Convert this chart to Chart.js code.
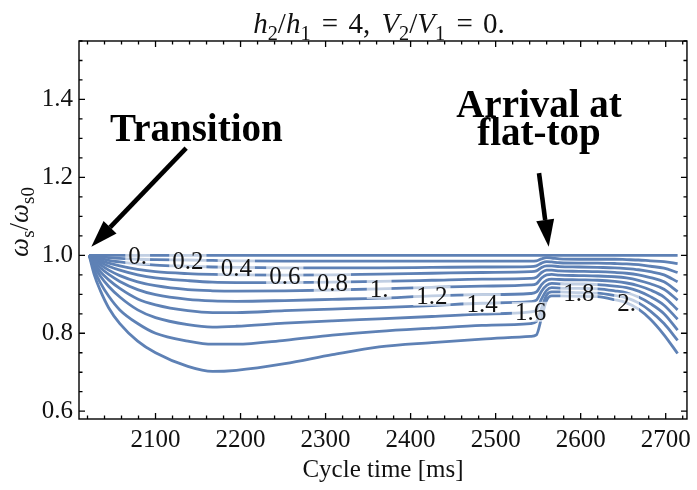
<!DOCTYPE html>
<html>
<head>
<meta charset="utf-8">
<script src="https://cdn.jsdelivr.net/npm/chart.js@4.4.1/dist/chart.umd.min.js"></script>
<style>
  html, body { margin: 0; padding: 0; background: #fff; }
  #wrap { position: relative; width: 697px; height: 490px; }
</style>
<title>Synchrotron frequency along the ramp</title>
</head>
<body>
<div id="wrap"><canvas id="chart" width="697" height="490"></canvas></div>
<script>
// cycle time samples [ms]
var times = [2022, 2028, 2035, 2045, 2058, 2079, 2100, 2138, 2167, 2195, 2252, 2308, 2363, 2425, 2484, 2541,
             2548, 2554, 2560, 2566, 2575, 2598, 2620, 2640, 2654, 2668, 2682, 2698, 2714];

// ws/ws0 for each curve, same sampling as times
var curve00 = [1.000, 1.000, 1.000, 1.000, 1.000, 1.000, 1.000, 1.000, 1.000, 1.000, 1.000, 1.000, 1.000, 1.000, 1.000, 1.000,
               1.000, 1.000, 1.000, 1.000, 1.000, 1.000, 1.000, 1.000, 1.000, 1.000, 1.000, 1.000, 1.000];
var curve02 = [1.000, 0.998, 0.996, 0.994, 0.992, 0.990, 0.989, 0.988, 0.987, 0.986, 0.985, 0.985, 0.985, 0.985, 0.985, 0.985,
               0.986, 0.991, 0.994, 0.993, 0.991, 0.990, 0.990, 0.990, 0.989, 0.988, 0.986, 0.984, 0.979];
var curve04 = [1.000, 0.996, 0.992, 0.987, 0.983, 0.978, 0.975, 0.972, 0.970, 0.969, 0.968, 0.968, 0.968, 0.969, 0.970, 0.971,
               0.973, 0.980, 0.984, 0.983, 0.981, 0.980, 0.980, 0.979, 0.978, 0.976, 0.972, 0.967, 0.956];
var curve06 = [1.000, 0.994, 0.987, 0.980, 0.973, 0.964, 0.958, 0.953, 0.951, 0.950, 0.949, 0.950, 0.952, 0.954, 0.956, 0.958,
               0.960, 0.969, 0.973, 0.973, 0.971, 0.970, 0.969, 0.968, 0.966, 0.963, 0.958, 0.950, 0.932];
var curve08 = [1.000, 0.991, 0.982, 0.972, 0.962, 0.950, 0.942, 0.935, 0.931, 0.930, 0.930, 0.931, 0.933, 0.936, 0.939, 0.941,
               0.944, 0.956, 0.962, 0.962, 0.960, 0.959, 0.958, 0.956, 0.954, 0.950, 0.943, 0.932, 0.907];
var curve10 = [1.000, 0.988, 0.976, 0.962, 0.948, 0.932, 0.922, 0.912, 0.909, 0.908, 0.909, 0.911, 0.914, 0.918, 0.921, 0.924,
               0.927, 0.942, 0.950, 0.951, 0.949, 0.948, 0.947, 0.945, 0.942, 0.936, 0.927, 0.913, 0.885];
var curve12 = [1.000, 0.984, 0.968, 0.951, 0.933, 0.912, 0.899, 0.887, 0.883, 0.882, 0.884, 0.887, 0.890, 0.896, 0.899, 0.902,
               0.906, 0.925, 0.936, 0.939, 0.938, 0.937, 0.936, 0.933, 0.929, 0.922, 0.911, 0.893, 0.860];
var curve14 = [1.000, 0.978, 0.958, 0.937, 0.915, 0.888, 0.873, 0.858, 0.853, 0.853, 0.858, 0.862, 0.866, 0.871, 0.877, 0.881,
               0.885, 0.908, 0.923, 0.928, 0.927, 0.926, 0.925, 0.921, 0.917, 0.908, 0.894, 0.872, 0.836];
var curve16 = [1.000, 0.972, 0.947, 0.920, 0.893, 0.860, 0.840, 0.822, 0.816, 0.818, 0.826, 0.832, 0.837, 0.843, 0.849, 0.855,
               0.860, 0.888, 0.910, 0.917, 0.916, 0.915, 0.914, 0.909, 0.904, 0.893, 0.876, 0.850, 0.808];
var curve18 = [1.000, 0.962, 0.930, 0.895, 0.860, 0.825, 0.800, 0.780, 0.772, 0.772, 0.782, 0.795, 0.805, 0.813, 0.820, 0.825,
               0.830, 0.865, 0.898, 0.906, 0.906, 0.904, 0.903, 0.897, 0.891, 0.878, 0.857, 0.825, 0.782];
var curve20 = [1.000, 0.950, 0.910, 0.865, 0.825, 0.780, 0.750, 0.715, 0.702, 0.705, 0.722, 0.745, 0.765, 0.776, 0.785, 0.792,
               0.796, 0.840, 0.885, 0.896, 0.896, 0.895, 0.894, 0.886, 0.878, 0.862, 0.836, 0.796, 0.748];

var curves = [curve00, curve02, curve04, curve06, curve08, curve10, curve12, curve14, curve16, curve18, curve20];
var curveLabels = ['0.', '0.2', '0.4', '0.6', '0.8', '1.', '1.2', '1.4', '1.6', '1.8', '2.'];
// time at which each curve carries its label
var labelTimes = [2079, 2138, 2195, 2252, 2308, 2363, 2425, 2484, 2541, 2598, 2654];

var xTickValues = [2100, 2200, 2300, 2400, 2500, 2600, 2700];
var yTickValues = [0.6, 0.8, 1.0, 1.2, 1.4];
var yTickLabels = ['0.6', '0.8', '1.0', '1.2', '1.4'];

var LINE = '#5e81b5';
var SERIF = '"Liberation Serif", "DejaVu Serif", serif';

// callouts, in data coordinates
var notes = [
  { lines: ['Transition'], x: 2148, y: [1.294], from: [2136, 1.275], to: [2024.5, 1.022] },
  { lines: ['Arrival at', 'flat-top'], x: 2551, y: [1.356, 1.283], from: [2551, 1.211], to: [2562.4, 1.022] }
];

var datasets = curves.map(function (vals, k) {
  return {
    label: curveLabels[k],
    data: vals.map(function (v, i) { return { x: times[i], y: v }; }),
    showLine: true,
    borderColor: LINE,
    borderWidth: 2.8,
    pointRadius: 0,
    cubicInterpolationMode: 'monotone'
  };
});

function fontFor(p, size) {
  var s = p.sub ? size * 0.7 : size;
  return (p.italic ? 'italic ' : '') + s + 'px ' + SERIF;
}

function partWidth(ctx, p, size) {
  if (p.gap) return p.gap;
  ctx.font = fontFor(p, size);
  return ctx.measureText(p.t).width;
}

function drawRich(ctx, parts, size, x, y) {
  var w = 0;
  parts.forEach(function (p) { w += partWidth(ctx, p, size); });
  var cx = x - w / 2;
  ctx.textAlign = 'left';
  ctx.textBaseline = 'alphabetic';
  parts.forEach(function (p) {
    if (!p.gap) {
      ctx.font = fontFor(p, size);
      ctx.fillText(p.t, cx, y + (p.sub ? size * 0.24 : 0));
    }
    cx += partWidth(ctx, p, size);
  });
}

var titleParts = [
  { t: 'h', italic: true }, { t: '2', sub: true }, { t: '/' }, { t: 'h', italic: true }, { t: '1', sub: true },
  { gap: 4 }, { t: ' = ' }, { gap: 3 }, { t: '4,' }, { gap: 4 }, { t: ' ' },
  { t: 'V', italic: true }, { t: '2', sub: true }, { t: '/' }, { t: 'V', italic: true }, { t: '1', sub: true },
  { gap: 4 }, { t: ' = ' }, { gap: 3 }, { t: '0.' }
];
var yTitleParts = [
  { t: '\u03c9', italic: true }, { t: 's', sub: true }, { t: '/' }, { t: '\u03c9', italic: true }, { t: 's0', sub: true }
];

function arrow(ctx, x1, y1, x2, y2) {
  var a = Math.atan2(y2 - y1, x2 - x1);
  var hl = 27, hw = 9;
  var bx = x2 - hl * Math.cos(a), by = y2 - hl * Math.sin(a);
  ctx.beginPath();
  ctx.moveTo(x1, y1);
  ctx.lineTo(bx, by);
  ctx.lineWidth = 4.6;
  ctx.stroke();
  ctx.beginPath();
  ctx.moveTo(x2, y2);
  ctx.lineTo(bx + hw * Math.sin(a), by - hw * Math.cos(a));
  ctx.lineTo(bx - hw * Math.sin(a), by + hw * Math.cos(a));
  ctx.closePath();
  ctx.fill();
}

var decorations = {
  id: 'decorations',
  afterDatasetsDraw: function (chart) {
    var ctx = chart.ctx, xs = chart.scales.x, ys = chart.scales.y, a = chart.chartArea;
    ctx.save();

    // curve labels with translucent boxes
    ctx.font = '25px ' + SERIF;
    curves.forEach(function (vals, k) {
      var i = times.indexOf(labelTimes[k]);
      var px = xs.getPixelForValue(labelTimes[k]);
      var py = ys.getPixelForValue(vals[i]);
      var w = ctx.measureText(curveLabels[k]).width;
      ctx.fillStyle = 'rgba(255,255,255,0.62)';
      ctx.fillRect(px - w / 2 - 3, py - 10, w + 6, 20);
      ctx.fillStyle = '#111';
      ctx.textAlign = 'center';
      ctx.textBaseline = 'alphabetic';
      ctx.fillText(curveLabels[k], px, py + 8.5);
    });

    // frame
    ctx.strokeStyle = '#000';
    ctx.lineWidth = 1.4;
    ctx.strokeRect(a.left, a.top, a.right - a.left, a.bottom - a.top);

    // inward ticks on all four sides
    ctx.lineWidth = 1.3;
    ctx.beginPath();
    for (var i = 101; i <= 136; i++) {
      var px = xs.getPixelForValue(i * 20);
      if (px < a.left || px > a.right) continue;
      var len = i % 5 === 0 ? 6 : 3.5;
      ctx.moveTo(px, a.bottom); ctx.lineTo(px, a.bottom - len);
      ctx.moveTo(px, a.top); ctx.lineTo(px, a.top + len);
    }
    for (var j = 12; j <= 31; j++) {
      var py = ys.getPixelForValue(j * 0.05);
      var ln = j % 4 === 0 ? 6 : 3.5;
      ctx.moveTo(a.left, py); ctx.lineTo(a.left + ln, py);
      ctx.moveTo(a.right, py); ctx.lineTo(a.right - ln, py);
    }
    ctx.stroke();

    // title and axis titles
    ctx.fillStyle = '#111';
    drawRich(ctx, titleParts, 29, (a.left + a.right) / 2 - 4, 33);
    ctx.save();
    ctx.translate(28, (a.top + a.bottom) / 2 - 8);
    ctx.rotate(-Math.PI / 2);
    drawRich(ctx, yTitleParts, 27, 0, 0);
    ctx.restore();
    ctx.font = '25px ' + SERIF;
    ctx.textAlign = 'center';
    ctx.textBaseline = 'alphabetic';
    ctx.fillText('Cycle time [ms]', (a.left + a.right) / 2, 477);

    // callouts
    ctx.fillStyle = '#000';
    ctx.strokeStyle = '#000';
    notes.forEach(function (n) {
      ctx.font = 'bold 39px ' + SERIF;
      ctx.textAlign = 'center';
      ctx.textBaseline = 'alphabetic';
      n.lines.forEach(function (s, li) {
        ctx.fillText(s, xs.getPixelForValue(n.x), ys.getPixelForValue(n.y[li]));
      });
      arrow(ctx, xs.getPixelForValue(n.from[0]), ys.getPixelForValue(n.from[1]),
                 xs.getPixelForValue(n.to[0]), ys.getPixelForValue(n.to[1]));
    });
    ctx.restore();
  }
};

new Chart(document.getElementById('chart').getContext('2d'), {
  type: 'scatter',
  data: { datasets: datasets },
  options: {
    responsive: false,
    animation: false,
    devicePixelRatio: 1,
    layout: { padding: { top: 41, right: 8.5, left: 0, bottom: 0 } },
    plugins: { legend: { display: false }, tooltip: { enabled: false } },
    scales: {
      x: {
        type: 'linear', min: 2010, max: 2725,
        grid: { display: false, drawTicks: false },
        border: { display: false },
        afterBuildTicks: function (s) { s.ticks = xTickValues.map(function (v) { return { value: v }; }); },
        afterFit: function (s) { s.height = 71; },
        ticks: {
          autoSkip: false, maxRotation: 0, padding: 6, color: '#111',
          font: { family: SERIF, size: 25 },
          callback: function (v) { return String(v); }
        }
      },
      y: {
        type: 'linear', min: 0.58, max: 1.55,
        grid: { display: false, drawTicks: false },
        border: { display: false },
        afterBuildTicks: function (s) { s.ticks = yTickValues.map(function (v) { return { value: v }; }); },
        afterFit: function (s) { s.width = 79; },
        ticks: {
          autoSkip: false, padding: 6, color: '#111',
          font: { family: SERIF, size: 25 },
          callback: function (v) { return yTickLabels[yTickValues.indexOf(v)]; }
        }
      }
    }
  },
  plugins: [decorations]
});
</script>
</body>
</html>
